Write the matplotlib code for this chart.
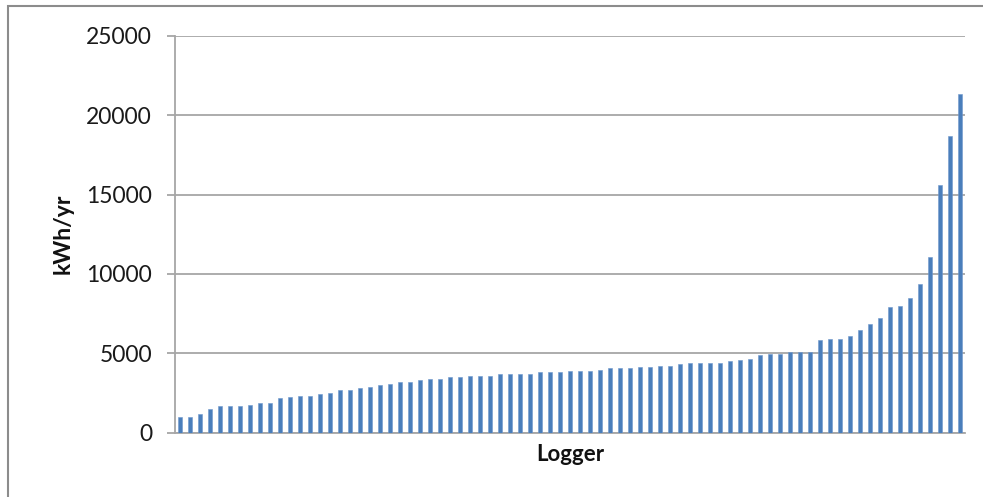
import matplotlib
matplotlib.use("Agg")
import matplotlib.pyplot as plt
from matplotlib.patches import Rectangle

values = [1000, 1000, 1170, 1490, 1650, 1700, 1700, 1760, 1850, 1850,
          2160, 2250, 2330, 2330, 2420, 2500, 2650, 2650, 2820, 2900,
          2990, 3070, 3160, 3160, 3300, 3390, 3390, 3470, 3470, 3550,
          3550, 3550, 3660, 3660, 3720, 3720, 3810, 3810, 3810, 3890,
          3890, 3890, 3970, 4060, 4060, 4060, 4140, 4140, 4220, 4220,
          4300, 4390, 4390, 4400, 4400, 4490, 4600, 4660, 4890, 4980,
          4980, 5100, 5100, 5100, 5840, 5920, 5920, 6070, 6490, 6850,
          7250, 7910, 7990, 8500, 9370, 11050, 15620, 18700, 21360]
loggers = list(range(len(values)))
yticks = [0, 5000, 10000, 15000, 20000, 25000]
xlabel = "Logger"
ylabel = "kWh/yr"

plt.rcParams['font.family'] = ['Lato', 'DejaVu Sans']

fig = plt.figure(figsize=(9.83, 4.97), dpi=100)
ax = fig.add_axes([175/983, 1-432.5/497, (965-175)/983, (432.5-36)/497])

ax.bar(loggers, values, width=0.48, color='#4a7ebb', edgecolor='#6f98cc', linewidth=0.4, zorder=3)

ax.set_xlim(-0.5, len(values)-0.5)
ax.set_ylim(0, 25000)
ax.set_yticks(yticks)
ax.set_yticklabels([str(t) for t in yticks])
ax.set_xticks([])

grid_c = '#a6a6a6'
ax.yaxis.grid(True, color=grid_c, linewidth=1.3, zorder=0)
for s in ['top', 'right']:
    ax.spines[s].set_visible(False)
for s in ['left', 'bottom']:
    ax.spines[s].set_color(grid_c)
    ax.spines[s].set_linewidth(1.3)
ax.tick_params(axis='y', direction='out', length=5.5, width=1.3, color=grid_c,
               labelsize=16.5, labelcolor='#1a1a1a', pad=11)

ax.set_xlabel(xlabel, fontsize=16, fontweight='bold', color='#111111', labelpad=8)
ax.set_ylabel(ylabel, fontsize=16.5, fontweight='bold', color='#111111', labelpad=9)

# outer chart frame (top and left edges visible)
fig.patches.append(Rectangle((8/983, -0.1), 1.2, 1.1 - 6/497, transform=fig.transFigure,
                             fill=False, edgecolor='#8c8c8c', linewidth=1.5))

fig.savefig("out.png", dpi=100)
